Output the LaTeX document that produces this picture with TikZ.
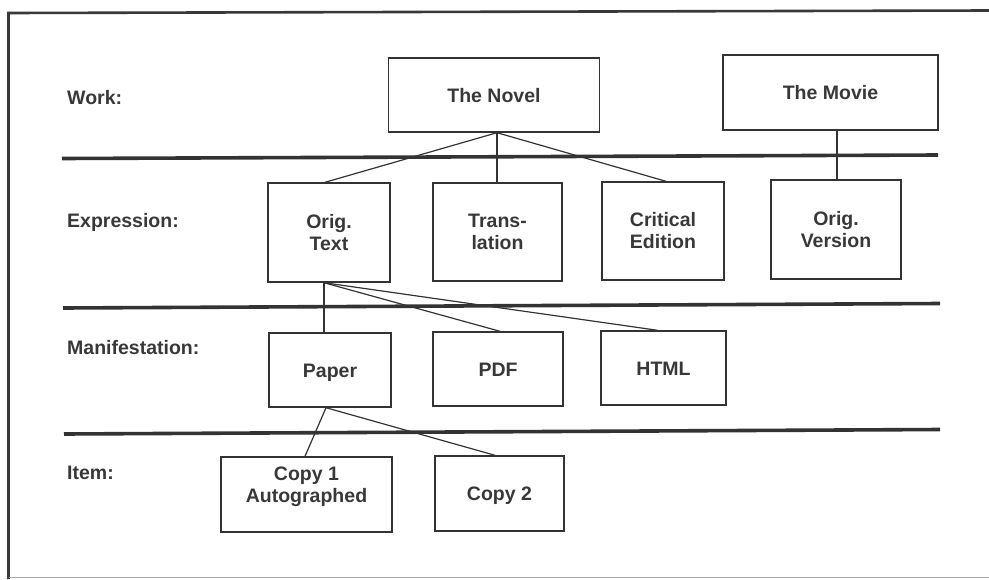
\documentclass[tikz,border=0pt]{standalone}
\usepackage{fontspec}
\setmainfont{Liberation Sans}
\begin{document}
\begin{tikzpicture}[x=1pt,y=-1pt,
  ink/.style={draw=black!80},
  box/.style={ink, line width=1.4pt, inner sep=0pt, align=center,
    font=\fontsize{19.5}{22}\selectfont\bfseries, text=black!78},
  one/.style={text height=14pt, text depth=0pt},
  lvl/.style={anchor=west, inner sep=0pt,
    font=\fontsize{19.5}{22}\selectfont\bfseries, text=black!78},
  sep/.style={draw=black!80, line width=3.6pt},
  conn/.style={draw=black!80, line width=1.2pt},
  frame/.style={draw=black!78, line width=2.6pt}]
\useasboundingbox (0,0) rectangle (989,579);
% frame
\draw[frame] (989,10.5) -- (8.5,13) -- (8.5,579);
\draw[draw=black!35, line width=1.5pt] (8.5,577.5) -- (989,577.5);
% separators
\draw[sep] (62,158.5) -- (938,155);
\draw[sep] (63,308) -- (940,303.5);
\draw[sep] (64,434) -- (940,429.5);
% level labels
\node[lvl] (lwork) at (67,97.5) {Work:};
\node[lvl] (lexpr) at (67,222.5) {Expression:};
\node[lvl] (lman) at (67,348) {Manifestation:};
\node[lvl] (litem) at (67,472.5) {Item:};
% work boxes
\node[box, one, minimum width=211pt, minimum height=74pt] (novel) at (494,95) {The Novel};
\node[box, one, minimum width=215pt, minimum height=75pt] (movie) at (830.5,92.5) {The Movie};
% expression boxes
\node[box, minimum width=122pt, minimum height=99pt] (otext) at (329,232.5) {Orig.\\Text};
\node[box, minimum width=129pt, minimum height=98pt] (trans) at (497.5,232) {Trans-\\lation};
\node[box, minimum width=122pt, minimum height=98pt] (crit) at (663,231) {Critical\\Edition};
\node[box, minimum width=130pt, minimum height=99pt] (over) at (836,229.5) {Orig.\\Version};
% manifestation boxes
\node[box, one, minimum width=122pt, minimum height=74pt] (paper) at (330,370) {Paper};
\node[box, one, minimum width=130pt, minimum height=74pt] (pdf) at (498,369) {PDF};
\node[box, one, minimum width=125pt, minimum height=74pt] (html) at (663.5,368) {HTML};
% item boxes
\node[box, minimum width=171pt, minimum height=75pt] (copy1) at (306.5,494.5) {Copy 1\\Autographed\\[-2pt]\mbox{}};
\node[box, one, minimum width=129pt, minimum height=75pt] (copy2) at (499.5,493.5) {Copy 2};
% connection points
\coordinate (nb) at ([xshift=3pt]novel.south);
\coordinate (mb) at ([xshift=6.5pt]movie.south);
\coordinate (ob) at ([xshift=-5pt]otext.south);
\coordinate (pb) at ([xshift=-4pt]paper.south);
% connectors
\draw[conn] (nb) -- ([xshift=-4pt]otext.north);
\draw[conn] (nb) -- (nb |- trans.north);
\draw[conn] (nb) -- ([xshift=3pt]crit.north);
\draw[conn] (mb) -- (mb |- over.north);
\draw[conn] (ob) -- (ob |- paper.north);
\draw[conn] (ob) -- ([xshift=2pt]pdf.north);
\draw[conn] (ob) -- ([xshift=-6pt]html.north);
\draw[conn] (pb) -- ([xshift=-1.5pt]copy1.north);
\draw[conn] (pb) -- ([xshift=-4.5pt]copy2.north);
\end{tikzpicture}
\end{document}
